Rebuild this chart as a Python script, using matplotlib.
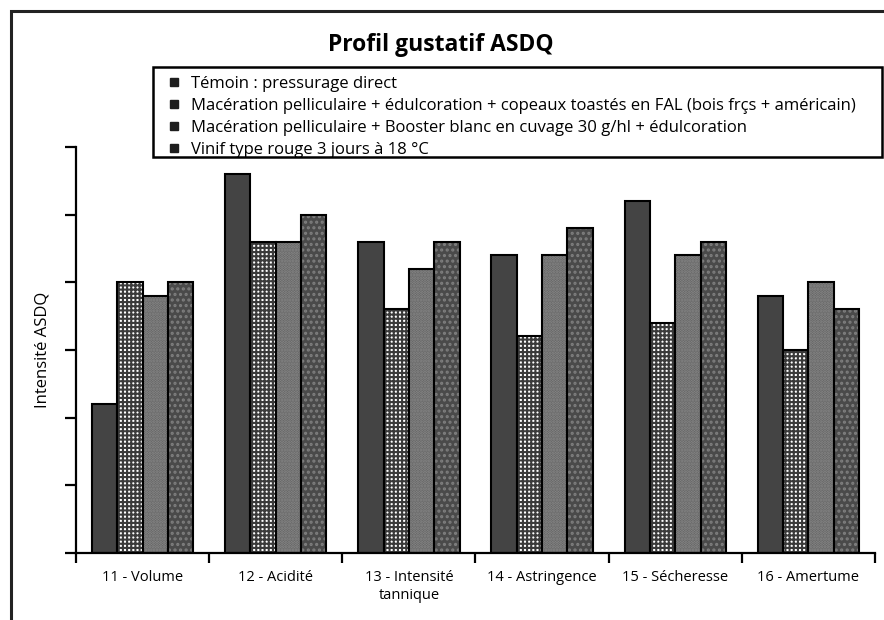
import numpy as np
import matplotlib.pyplot as plt
from matplotlib.patches import Rectangle
from matplotlib.lines import Line2D

plt.rcParams['font.family'] = ['Open Sans', 'DejaVu Sans']
plt.rcParams['hatch.linewidth'] = 1.5

# categories and series
categories = ['11 - Volume', '12 - Acidité', '13 - Intensité\ntannique',
              '14 - Astringence', '15 - Sécheresse', '16 - Amertume']
series_names = ['Témoin : pressurage direct',
                'Macération pelliculaire + édulcoration + copeaux toastés en FAL (bois frçs + américain)',
                'Macération pelliculaire + Booster blanc en cuvage 30 g/hl + édulcoration',
                'Vinif type rouge 3 jours à 18 °C']
temoin = [2.2, 5.6, 4.6, 4.4, 5.2, 3.8]
copeaux = [4.0, 4.6, 3.6, 3.2, 3.4, 3.0]
booster = [3.8, 4.6, 4.2, 4.4, 4.4, 4.0]
rouge = [4.0, 5.0, 4.6, 4.8, 4.6, 3.6]

# look of each series: face colour, hatch, hatch colour
styles = [('#444444', None, None),
          ('white', '++++', '#3a3a3a'),
          ('#5e5e5e', '.' * 6, '#8c8c8c'),
          ('#4a4a4a', '.' * 3, '#7e7e7e')]

fig = plt.figure(figsize=(8.84, 6.2), dpi=100)
ax = fig.add_axes([76/884, 1-553/620, 799/884, 406/620])

x = np.arange(len(categories))
w = 0.19
all_vals = [temoin, copeaux, booster, rouge]
for i, vals in enumerate(all_vals):
    face, hatch, hcol = styles[i]
    pos = x + (i - 1.5) * w
    if hatch:
        ax.bar(pos, vals, w, color=face, hatch=hatch, edgecolor=hcol, linewidth=0)
    ax.bar(pos, vals, w, color=face if not hatch else 'none',
           edgecolor='black', linewidth=1.5)

ax.set_xlim(-0.5, len(categories) - 0.5)
ax.set_ylim(0, 6)
ax.spines['top'].set_visible(False)
ax.spines['right'].set_visible(False)
for s in ['left', 'bottom']:
    ax.spines[s].set_linewidth(1.6)

ax.set_yticks(np.arange(0, 7, 1))
ax.set_yticklabels([])
ax.tick_params(axis='y', direction='out', length=8, width=1.6)
ax.set_xticks(x)
ax.set_xticklabels(categories, fontsize=10.5, linespacing=1.3)
ax.tick_params(axis='x', length=0, pad=12)
ax.set_xticks(np.arange(-0.5, len(categories)), minor=True)
ax.tick_params(axis='x', which='minor', direction='out', length=7, width=1.6)
ax.set_ylabel('Intensité ASDQ', fontsize=12, labelpad=7)

fig.text(441/884, 1-45/620, 'Profil gustatif ASDQ', fontsize=16.5, fontweight='bold',
         ha='center', va='center')

# small dark squares as legend keys, box drawn separately
handles = [Line2D([], [], linestyle='none', marker='s', markersize=6,
                  markerfacecolor='#1e1e1e', markeredgecolor='#1e1e1e')
           for _ in series_names]
fig.legend(handles, series_names, loc='upper left',
           bbox_to_anchor=(153/884, 1-72/620), bbox_transform=fig.transFigure,
           fontsize=12, frameon=False,
           handlelength=2.0, handletextpad=0.05,
           labelspacing=0.36, borderpad=0.25, borderaxespad=0)
fig.patches.append(Rectangle((153/884, 1-157/620), 729/884, 90/620, transform=fig.transFigure,
                             fill=False, edgecolor='black', linewidth=1.8))

# frame around the whole chart
fig.patches.append(Rectangle((11/884, -0.05), 1.2, 1.05 - 11/620, transform=fig.transFigure,
                             fill=False, edgecolor='#222222', linewidth=2.2))

fig.savefig('out.png', dpi=100)
